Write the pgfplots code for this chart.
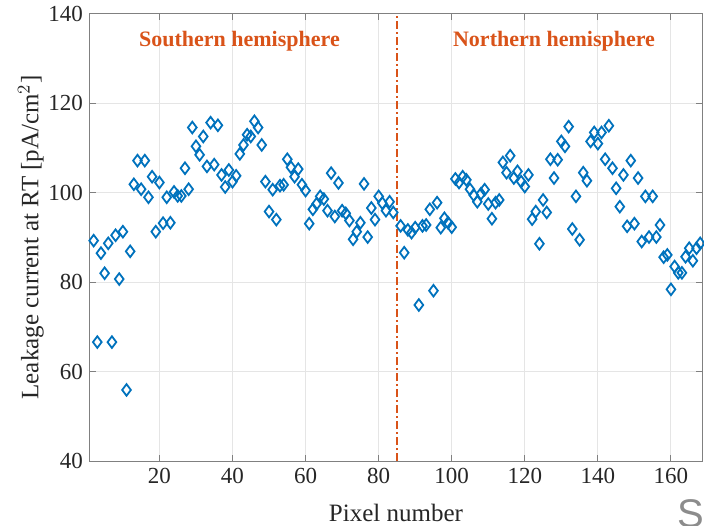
\documentclass[border=0pt]{standalone}
\usepackage{fontspec}
\setmainfont{Liberation Serif}
\newfontfamily\sansfnt{Liberation Sans}
\usepackage{pgfplots}
\pgfplotsset{compat=1.18}
\definecolor{mblue}{HTML}{0072BD}
\definecolor{morange}{HTML}{D95319}
\begin{document}
\begin{tikzpicture}
\begin{axis}[
  name=ax,
  scale only axis,
  width=306pt, height=223.5pt,
  xmin=1, xmax=168.5, ymin=40, ymax=140,
  xtick={20,40,...,160}, ytick={40,60,...,140},
  grid=major,
  major grid style={black!10, line width=0.5pt},
  axis line style={black!50, line width=0.5pt},
  tick style={black!50, line width=0.5pt},
  tick align=inside,
  major tick length=3pt,
  xtick pos=both, ytick pos=both,
  /pgf/number format/assume math mode=true,
  tick label style={font=\fontsize{11.5}{13}\selectfont, text=black!85},
  every axis x label/.style={at={(axis description cs:0.5,0)}, anchor=base, yshift=-30pt, font=\fontsize{12.5}{14}\selectfont, text=black!85},
  every axis y label/.style={at={(axis description cs:-0.0964,0.5)}, rotate=90, anchor=center, font=\fontsize{12.5}{14}\selectfont, text=black!85},
  xlabel={Pixel number},
  ylabel={Leakage current at RT [pA/cm$^2$]},
  clip=false,
]
\addplot[only marks, mark=diamond, mark size=2.9pt, mark options={draw=mblue, line width=0.9pt}] coordinates {
(2,89.3) (3,66.6) (4,86.5) (5,82.0) (6,88.7) (7,66.6) (8,90.5) (9,80.7) (10,91.3)
(11,55.9) (12,86.9) (13,101.9) (14,107.2) (15,100.8) (16,107.2) (17,99.0) (18,103.6) (19,91.3) (20,102.3)
(21,93.2) (22,99.0) (23,93.3) (24,100.2) (25,99.3) (26,99.3) (27,105.5) (28,100.8) (29,114.6) (30,110.4)
(31,108.5) (32,112.6) (33,105.9) (34,115.7) (35,106.3) (36,115.1) (37,104.0) (38,101.3) (39,105.1) (40,102.5)
(41,103.8) (42,108.7) (43,110.7) (44,113.0) (45,112.6) (46,116.0) (47,114.6) (48,110.7) (49,102.5) (50,95.8)
(51,100.7) (52,94.0) (53,101.6) (54,101.8) (55,107.5) (56,105.7) (57,103.6) (58,105.3) (59,101.8) (60,100.5)
(61,93.1) (62,96.3) (63,97.5) (64,99.2) (65,98.6) (66,96.0) (67,104.4) (68,94.7) (69,102.2) (70,96.0)
(71,95.4) (72,93.8) (73,89.6) (74,91.3) (75,93.3) (76,102.0) (77,90.1) (78,96.6) (79,94.0) (80,99.2)
(81,97.7) (82,96.0) (83,98.0) (84,95.6) (86,92.6) (87,86.6) (88,91.7) (89,91.1) (90,92.2)
(91,74.9) (92,92.6) (93,92.8) (94,96.3) (95,78.1) (96,97.8) (97,92.2) (98,94.3) (99,93.3) (100,92.3)
(101,103.1) (102,102.3) (103,103.6) (104,102.9) (105,100.8) (106,99.5) (107,98.0) (108,99.8) (109,100.7) (110,97.5)
(111,94.2) (112,97.8) (113,98.4) (114,106.8) (115,104.5) (116,108.3) (117,103.3) (118,104.8) (119,102.5) (120,101.4)
(121,104.0) (122,94.1) (123,95.8) (124,88.6) (125,98.4) (126,95.6) (127,107.5) (128,103.3) (129,107.4) (130,111.5)
(131,110.4) (132,114.8) (133,91.9) (134,99.2) (135,89.5) (136,104.5) (137,102.7) (138,111.5) (139,113.5) (140,111.0)
(141,113.5) (142,107.5) (143,115.0) (144,105.5) (145,101.0) (146,96.9) (147,104.0) (148,92.5) (149,107.2) (150,93.1)
(151,103.3) (152,89.1) (153,99.2) (154,90.1) (155,99.2) (156,90.1) (157,92.8) (158,85.6) (159,86.1) (160,78.4)
(161,83.5) (162,82.1) (163,82.1) (164,85.7) (165,87.6) (166,84.8) (167,87.6) (168,88.7)
};
\addplot[morange, line width=0.75pt, dash pattern=on 4pt off 1.5pt on 1pt off 1.5pt] coordinates {(85,40) (85,140)};
\node[font=\bfseries\fontsize{11}{13}\selectfont, text=morange] at (axis cs:41.9,134) {Southern hemisphere};
\node[font=\bfseries\fontsize{11}{13}\selectfont, text=morange] at (axis cs:128,134) {Northern hemisphere};
\end{axis}
\node[font=\sansfnt\fontsize{20}{22}\selectfont, text=black!45, anchor=base] at ([xshift=-5.5pt,yshift=-33pt]ax.south east) {S};
\pgfresetboundingbox
\path[use as bounding box] ([xshift=-45pt,yshift=-32pt]ax.south west) rectangle ([xshift=1pt,yshift=7pt]ax.north east);
\end{tikzpicture}
\end{document}
